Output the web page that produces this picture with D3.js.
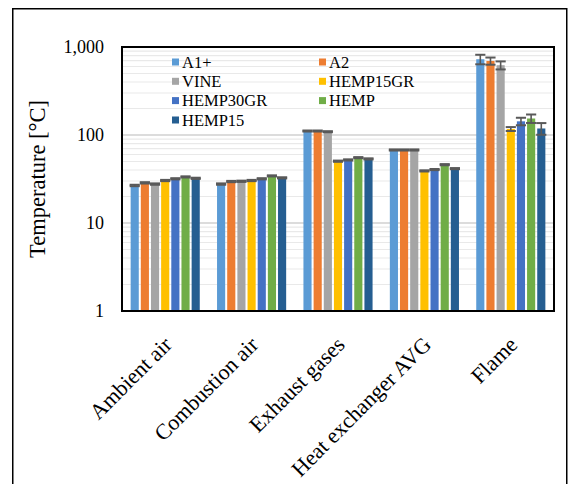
<!DOCTYPE html>
<html>
<head>
<meta charset="utf-8">
<script src="https://cdn.jsdelivr.net/npm/d3@7"></script>
<style>
  html, body { margin: 0; padding: 0; background: #fff; }
  svg { display: block; }
  svg text { font-family: "Liberation Serif", "Times New Roman", serif; }
</style>
</head>
<body>
<svg id="chart" width="573" height="484"></svg>
<script>
// Measured temperatures per location, one array per fuel
const categories = ["Ambient air", "Combustion air", "Exhaust gases", "Heat exchanger AVG", "Flame"];
const seriesNames = ["A1+", "A2", "VINE", "HEMP15GR", "HEMP30GR", "HEMP", "HEMP15"];
const seriesColors = ["#5B9BD5", "#ED7D31", "#A5A5A5", "#FFC000", "#4472C4", "#70AD47", "#255E91"];

const valA1 = [26.7, 27.7, 111, 67.6, 726];
const valA2 = [28.6, 29.6, 111, 67.6, 694];
const valVINE = [27.7, 29.8, 109, 67.6, 621];
const valHEMP15GR = [30.4, 30.4, 50.4, 39.1, 117];
const valHEMP30GR = [31.8, 31.8, 52.1, 40.5, 143];
const valHEMP = [33.4, 34.3, 55.3, 46.0, 154];
const valHEMP15 = [32.2, 32.6, 53.5, 41.5, 118.6];

// Standard deviations (error bar half-lengths)
const errA1 = [0.5, 0.5, 1.5, 1.0, 90];
const errA2 = [0.5, 0.5, 1.5, 1.0, 65];
const errVINE = [0.5, 0.5, 1.5, 1.0, 65];
const errHEMP15GR = [0.5, 0.5, 0.8, 0.6, 6];
const errHEMP30GR = [0.5, 0.5, 0.8, 0.6, 14];
const errHEMP = [0.5, 0.5, 0.8, 0.7, 17];
const errHEMP15 = [0.5, 0.5, 0.8, 0.6, 18];

const yTicks = [1, 10, 100, 1000];
const yTickLabels = ["1", "10", "100", "1,000"];
const yTitle = "Temperature [°C]";

const values = [valA1, valA2, valVINE, valHEMP15GR, valHEMP30GR, valHEMP, valHEMP15];
const errors = [errA1, errA2, errVINE, errHEMP15GR, errHEMP30GR, errHEMP, errHEMP15];

const FONT = "Liberation Serif";
const svg = d3.select("#chart");
const m = { left: 122, right: 554, top: 47, bottom: 311 };

// Outer frame
svg.append("rect")
  .attr("x", 12.75).attr("y", 8.75)
  .attr("width", 554).attr("height", 500)
  .attr("fill", "none").attr("stroke", "#000").attr("stroke-width", 1.5);

const x0 = d3.scaleBand().domain(categories).range([m.left, m.right])
  .paddingInner(0.2).paddingOuter(0.1);
const x1 = d3.scaleBand().domain(seriesNames).range([0, x0.bandwidth()])
  .paddingInner(0.2).paddingOuter(0);
const y = d3.scaleLog().domain([1, 1000]).range([m.bottom, m.top]);

// Gridlines: minor then major
const minor = [];
[1, 10, 100].forEach(d => { for (let k = 2; k <= 9; k++) minor.push(d * k); });
svg.append("g").selectAll("line").data(minor).join("line")
  .attr("x1", m.left).attr("x2", m.right)
  .attr("y1", d => y(d)).attr("y2", d => y(d))
  .attr("stroke", "#e9e9e9").attr("stroke-width", 1.2);
svg.append("g").selectAll("line").data([10, 100]).join("line")
  .attr("x1", m.left).attr("x2", m.right)
  .attr("y1", d => y(d)).attr("y2", d => y(d))
  .attr("stroke", "#d0d0d0").attr("stroke-width", 1.6);

// Bars
const flat = [];
values.forEach((arr, si) => arr.forEach((v, ci) => flat.push({
  s: seriesNames[si], si, c: categories[ci], v, e: errors[si][ci]
})));

svg.append("g").selectAll("rect").data(flat).join("rect")
  .attr("x", d => x0(d.c) + x1(d.s))
  .attr("width", x1.bandwidth())
  .attr("y", d => y(d.v))
  .attr("height", d => y(1) - y(d.v))
  .attr("fill", d => seriesColors[d.si]);

// Error bars
const eg = svg.append("g").attr("stroke", "#595959").attr("fill", "none");
const capHalf = x1.step() / 2;
flat.forEach(d => {
  const cx = x0(d.c) + x1(d.s) + x1.bandwidth() / 2;
  const yt = y(d.v + d.e), yb = y(d.v - d.e);
  eg.append("line").attr("x1", cx).attr("x2", cx).attr("y1", yt).attr("y2", yb).attr("stroke-width", 1.6);
  [yt, yb].forEach(yy => eg.append("line")
    .attr("x1", cx - capHalf).attr("x2", cx + capHalf)
    .attr("y1", yy).attr("y2", yy).attr("stroke-width", 2));
});

// Plot frame
svg.append("rect")
  .attr("x", m.left).attr("y", m.top)
  .attr("width", m.right - m.left).attr("height", m.bottom - m.top)
  .attr("fill", "none").attr("stroke", "#000").attr("stroke-width", 2);

// Y axis labels
const yAxis = d3.axisLeft(y).tickValues(yTicks)
  .tickFormat((d, i) => yTickLabels[i]).tickSize(0).tickPadding(18);
const ya = svg.append("g").attr("transform", `translate(${m.left},0)`).call(yAxis);
ya.attr("font-family", FONT);
ya.select(".domain").remove();
ya.selectAll("text").attr("font-size", 18).attr("fill", "#000")
  .attr("font-family", FONT);

// Y title
svg.append("text")
  .attr("transform", `translate(45,${(m.top + m.bottom) / 2}) rotate(-90)`)
  .attr("text-anchor", "middle")
  .attr("font-family", FONT)
  .attr("font-size", 22.5).attr("fill", "#000")
  .text(yTitle);

// X category labels
svg.append("g").selectAll("text").data(categories).join("text")
  .attr("transform", d => `translate(${x0(d) + x0.bandwidth() / 2 + 3},341) rotate(-45)`)
  .attr("text-anchor", "end").attr("dy", "0.32em")
  .attr("font-family", FONT)
  .attr("font-size", 22).attr("fill", "#000")
  .text(d => d);

// Legend: two columns
const legCols = [172, 319];
const legRows = [62, 81.3, 100.6, 120];
const lg = svg.append("g");
seriesNames.forEach((name, i) => {
  const col = i % 2, row = Math.floor(i / 2);
  const gx = legCols[col], gy = legRows[row];
  lg.append("rect").attr("x", gx).attr("y", gy - 3.5).attr("width", 7).attr("height", 7)
    .attr("fill", seriesColors[i]);
  lg.append("text").attr("x", gx + 10).attr("y", gy).attr("dy", "0.35em")
    .attr("font-family", FONT)
    .attr("font-size", 16.5).attr("fill", "#000").text(name);
});
</script>
</body>
</html>
